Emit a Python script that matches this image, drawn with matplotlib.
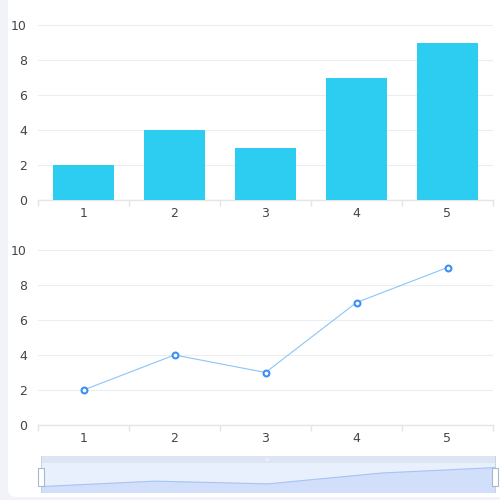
import matplotlib
matplotlib.use('Agg')
import matplotlib.pyplot as plt
from matplotlib.patches import FancyBboxPatch, Rectangle
import numpy as np

categories = ['1', '2', '3', '4', '5']
values = [2, 4, 3, 7, 9]
yticks = [0, 2, 4, 6, 8, 10]

grid_col = '#ebedf0'
text_col = '#454545'

fig = plt.figure(figsize=(5, 5), dpi=100)
fig.patch.set_facecolor('#f2f3f8')
# white card with rounded corners
card = FancyBboxPatch((8 / 500, 3 / 500), 492 / 500 + 0.02, 497 / 500 + 0.02,
                      boxstyle='round,pad=0,rounding_size=0.016',
                      transform=fig.transFigure, facecolor='white',
                      edgecolor='none', zorder=-10)
fig.patches.append(card)

x = np.arange(len(categories))


def style_axis(ax):
    ax.set_xlim(-0.5, len(categories) - 0.5)
    ax.set_ylim(0, 10)
    ax.set_yticks(yticks)
    ax.set_facecolor('none')
    for s in ['top', 'right', 'left']:
        ax.spines[s].set_visible(False)
    ax.spines['bottom'].set_color('#e3e5e8')
    ax.spines['bottom'].set_linewidth(1)
    ax.grid(axis='y', color=grid_col, linewidth=0.8)
    ax.set_axisbelow(True)
    ax.tick_params(axis='y', length=0, labelsize=9, labelcolor=text_col, pad=8)
    ax.set_xticks(x)
    ax.set_xticklabels(categories)
    ax.tick_params(axis='x', length=0, labelsize=9, labelcolor=text_col, pad=5)
    # category boundary ticks
    ax.set_xticks(np.arange(-0.5, len(categories)), minor=True)
    ax.tick_params(axis='x', which='minor', length=4, color='#e3e5e8', width=1)


ax1 = fig.add_axes([38 / 500, 0.6, 455 / 500, 0.35])
style_axis(ax1)
ax1.bar(x, values, width=0.66, color='#2ccdf0', zorder=3)

ax2 = fig.add_axes([38 / 500, 0.15, 455 / 500, 0.35])
style_axis(ax2)
ax2.plot(x, values, color='#8cc4f8', linewidth=0.8, zorder=3)
ax2.plot(x, values, linestyle='none', marker='o', markersize=4.2,
         markerfacecolor='white', markeredgecolor='#3d8ff5',
         markeredgewidth=1.5, zorder=4)

# data zoom slider
axs = fig.add_axes([41 / 500, 8 / 500, 454 / 500, 29 / 500])
axs.set_xlim(0, len(categories) - 1)
axs.set_ylim(0, 10.7)
axs.axis('off')
axs.add_patch(Rectangle((0, 0), len(categories) - 1, 10.7, facecolor='#e8effd',
                        edgecolor='none', zorder=1, clip_on=False))
axs.fill_between(x, values, 0, color='#d2dffa', zorder=2)
axs.plot(x, values, color='#a9c3f3', linewidth=0.8, zorder=3)

axt = fig.add_axes([41 / 500, 37 / 500, 454 / 500, 7 / 500])
axt.axis('off')
axt.add_patch(Rectangle((0, 0), 1, 1, transform=axt.transAxes,
                        facecolor='#dde4f3', edgecolor='none'))
axt.text(0.5, 0.5, '|||', transform=axt.transAxes, fontsize=3, color='white',
         ha='center', va='center')

# handles
for hx in [41, 495]:
    fig.patches.append(Rectangle(((hx - 3) / 500, 14 / 500), 6 / 500, 18 / 500,
                                 transform=fig.transFigure, facecolor='white',
                                 edgecolor='#a7b7cc', linewidth=0.8, zorder=5))
    fig.lines.append(plt.Line2D([hx / 500, hx / 500], [8 / 500, 44 / 500],
                                transform=fig.transFigure, color='#c8d2e4',
                                linewidth=0.7, zorder=4))

fig.savefig('out.png', dpi=100)
